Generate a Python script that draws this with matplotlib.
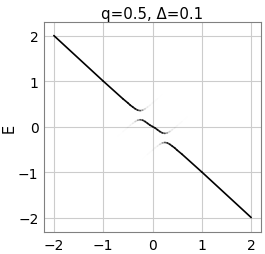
import numpy as np
import matplotlib
matplotlib.use("Agg")
import matplotlib.pyplot as plt
from matplotlib.collections import LineCollection

title = "q=0.5, Δ=0.1"
ylabel = "E"
xticks = [-2, -1, 0, 1, 2]
yticks = [-2, -1, 0, 1, 2]

# upper branch (k, E, spectral weight)
k_up = [-2.0, -1.0, -0.6, -0.5, -0.45, -0.4, -0.35, -0.3, -0.25, -0.2, -0.15, -0.1, -0.05, 0.0, 0.1, 0.2]
E_up = [2.0, 1.0, 0.61, 0.52, 0.47, 0.43, 0.39, 0.36, 0.35, 0.36, 0.39, 0.43, 0.47, 0.52, 0.61, 0.71]
w_up = [1.0, 1.0, 0.98, 0.96, 0.95, 0.92, 0.85, 0.7, 0.45, 0.2, 0.08, 0.04, 0.03, 0.02, 0.01, 0.0]

# middle branch
k_mid = [-0.7, -0.6, -0.5, -0.45, -0.4, -0.35, -0.3, -0.25, -0.2, -0.15, -0.1, -0.05, 0.0,
         0.05, 0.1, 0.15, 0.2, 0.25, 0.3, 0.35, 0.4, 0.45, 0.5, 0.6, 0.7]
E_mid = [-0.21, -0.11, -0.02, 0.03, 0.07, 0.11, 0.14, 0.15, 0.14, 0.11, 0.07, 0.03, 0.0,
         -0.03, -0.07, -0.11, -0.14, -0.15, -0.14, -0.11, -0.07, -0.03, 0.02, 0.11, 0.21]
w_mid = [0.0, 0.01, 0.02, 0.03, 0.04, 0.08, 0.2, 0.45, 0.7, 0.85, 0.9, 0.9, 0.9,
         0.9, 0.9, 0.85, 0.7, 0.45, 0.2, 0.08, 0.04, 0.03, 0.02, 0.01, 0.0]

# lower branch
k_lo = [-0.2, -0.1, 0.0, 0.05, 0.1, 0.15, 0.2, 0.25, 0.3, 0.35, 0.4, 0.45, 0.5, 0.6, 1.0, 2.0]
E_lo = [-0.71, -0.61, -0.52, -0.47, -0.43, -0.39, -0.36, -0.35, -0.36, -0.39, -0.43, -0.47, -0.52, -0.61, -1.0, -2.0]
w_lo = [0.0, 0.01, 0.02, 0.03, 0.04, 0.08, 0.2, 0.45, 0.7, 0.85, 0.92, 0.95, 0.96, 0.98, 1.0, 1.0]

fig = plt.figure(figsize=(2.65, 2.55), dpi=100)
ax = fig.add_axes([0.166, 0.086, 0.819, 0.824])

for ks, Es, ws in [(k_up, E_up, w_up), (k_mid, E_mid, w_mid), (k_lo, E_lo, w_lo)]:
    pts = np.column_stack([ks, Es])
    segs = np.stack([pts[:-1], pts[1:]], axis=1)
    ww = np.array(ws)
    a = 0.5 * (ww[:-1] + ww[1:])
    cols = np.zeros((len(a), 4))
    cols[:, 3] = np.clip(a, 0, 1)
    lc = LineCollection(segs, colors=cols, linewidths=1.2, capstyle="round", joinstyle="round")
    ax.add_collection(lc)

ax.set_xlim(-2.2, 2.2)
ax.set_ylim(-2.32, 2.3)
ax.set_xticks(xticks)
ax.set_yticks(yticks)
ax.tick_params(labelsize=10, length=0, pad=4)
ax.grid(True, color="#cccccc", linewidth=0.8)
ax.set_axisbelow(True)
for s in ax.spines.values():
    s.set_color("#808080")
    s.set_linewidth(0.8)
ax.set_title(title, fontsize=10.8, pad=3)
ax.set_ylabel(ylabel, fontsize=10.5)
ax.yaxis.set_label_coords(-0.128, 0.5)

fig.savefig("out.png", dpi=100)
